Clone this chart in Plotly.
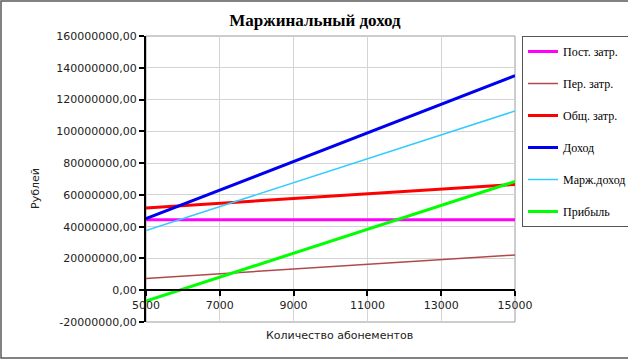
import plotly.graph_objects as go

x_units = [5000, 7000, 9000, 11000, 13000, 15000]
fixed_costs = [44400000, 44400000, 44400000, 44400000, 44400000, 44400000]
var_costs = [7400000, 10360000, 13320000, 16280000, 19240000, 22200000]
total_costs = [51800000, 54760000, 57720000, 60680000, 63640000, 66600000]
revenue = [45000000, 63000000, 81000000, 99000000, 117000000, 135000000]
margin_income = [37600000, 52640000, 67680000, 82720000, 97760000, 112800000]
profit = [-6800000, 8240000, 23280000, 38320000, 53360000, 68400000]

series_names = ["Пост. затр.", "Пер. затр.", "Общ. затр.", "Доход", "Марж.доход", "Прибыль"]
series_values = [fixed_costs, var_costs, total_costs, revenue, margin_income, profit]
series_colors = ["#FF00FF", "#B04A4A", "#FF0000", "#0000F0", "#33CCFF", "#00FF00"]
series_widths = [3, 1.5, 3, 3, 1.5, 3]

y_tickvals = [-20000000, 0, 20000000, 40000000, 60000000, 80000000, 100000000, 120000000, 140000000, 160000000]
y_ticktext = ["-20000000,00", "0,00", "20000000,00", "40000000,00", "60000000,00", "80000000,00",
              "100000000,00", "120000000,00", "140000000,00", "160000000,00"]
x_tickvals = [5000, 7000, 9000, 11000, 13000, 15000]
x_ticktext = ["5000", "7000", "9000", "11000", "13000", "15000"]

W, H = 628, 360
L, R, T, B = 146, 515, 36, 322  # plot area pixel bounds


def px_x(p):
    return (p - L) / (R - L)


def px_y(p):
    return (B - p) / (B - T)


fig = go.Figure()
for name, vals, col, w in zip(series_names, series_values, series_colors, series_widths):
    fig.add_trace(go.Scatter(x=x_units, y=vals, mode="lines", name=name, legendgroup=name,
                             line=dict(color=col, width=w)))

tick_font = dict(family="DejaVu Sans", size=11, color="#222222")

fig.update_layout(
    width=W, height=H,
    margin=dict(l=L, r=W - R, t=T, b=H - B, autoexpand=False),
    paper_bgcolor="white", plot_bgcolor="white",
    title=dict(text="<b>Маржинальный доход</b>", font=dict(family="Liberation Serif", size=17, color="black"),
               x=px_x(315), xref="paper", xanchor="center", y=1 - 20 / H, yanchor="middle"),
    xaxis=dict(range=[5000, 15000], tickvals=x_tickvals, ticktext=x_ticktext, showgrid=True,
               gridcolor="#D4D4D4", gridwidth=1, automargin=False,
               showline=True, linecolor="black", linewidth=2, ticks="outside", ticklen=5, tickwidth=2,
               tickcolor="black", anchor="free", position=20 / 180, zeroline=False, tickfont=tick_font),
    yaxis=dict(range=[-20000000, 160000000], tickvals=y_tickvals, ticktext=y_ticktext, showgrid=True,
               gridcolor="#D4D4D4", gridwidth=1, showline=True, linecolor="black", linewidth=2,
               automargin=False,
               ticks="outside", ticklen=5, tickwidth=2, tickcolor="black", zeroline=False, tickfont=tick_font),
    legend=dict(x=px_x(522), y=1.0, xanchor="left", yanchor="top", bordercolor="#555555", borderwidth=1,
                font=dict(family="Liberation Serif", size=12, color="black"), tracegroupgap=13,
                bgcolor="white", entrywidth=110, entrywidthmode="pixels"),
    showlegend=True,
)

fig.add_annotation(text="Рублей", x=px_x(35), y=px_y(188), xref="paper", yref="paper", textangle=-90,
                   xanchor="center", yanchor="middle",
                   showarrow=False, font=dict(family="DejaVu Sans", size=11, color="#222222"))
fig.add_annotation(text="Количество абонементов", x=px_x(339), y=px_y(335), xref="paper", yref="paper",
                   xanchor="center", yanchor="middle",
                   showarrow=False, font=dict(family="DejaVu Sans", size=11, color="#222222"))

# plot area border
fig.add_shape(type="rect", xref="paper", yref="paper", x0=0, x1=1, y0=0, y1=1,
              line=dict(color="#9A9A9A", width=1), layer="below")
# outer chart border
fig.add_shape(type="rect", xref="paper", yref="paper", x0=px_x(1), x1=px_x(660), y0=px_y(358), y1=px_y(1),
              line=dict(color="#5A5A5A", width=1.5))

fig.write_html("out.html", config={"displayModeBar": False},
               post_script="document.body.style.margin='0';document.body.style.overflow='hidden';")
